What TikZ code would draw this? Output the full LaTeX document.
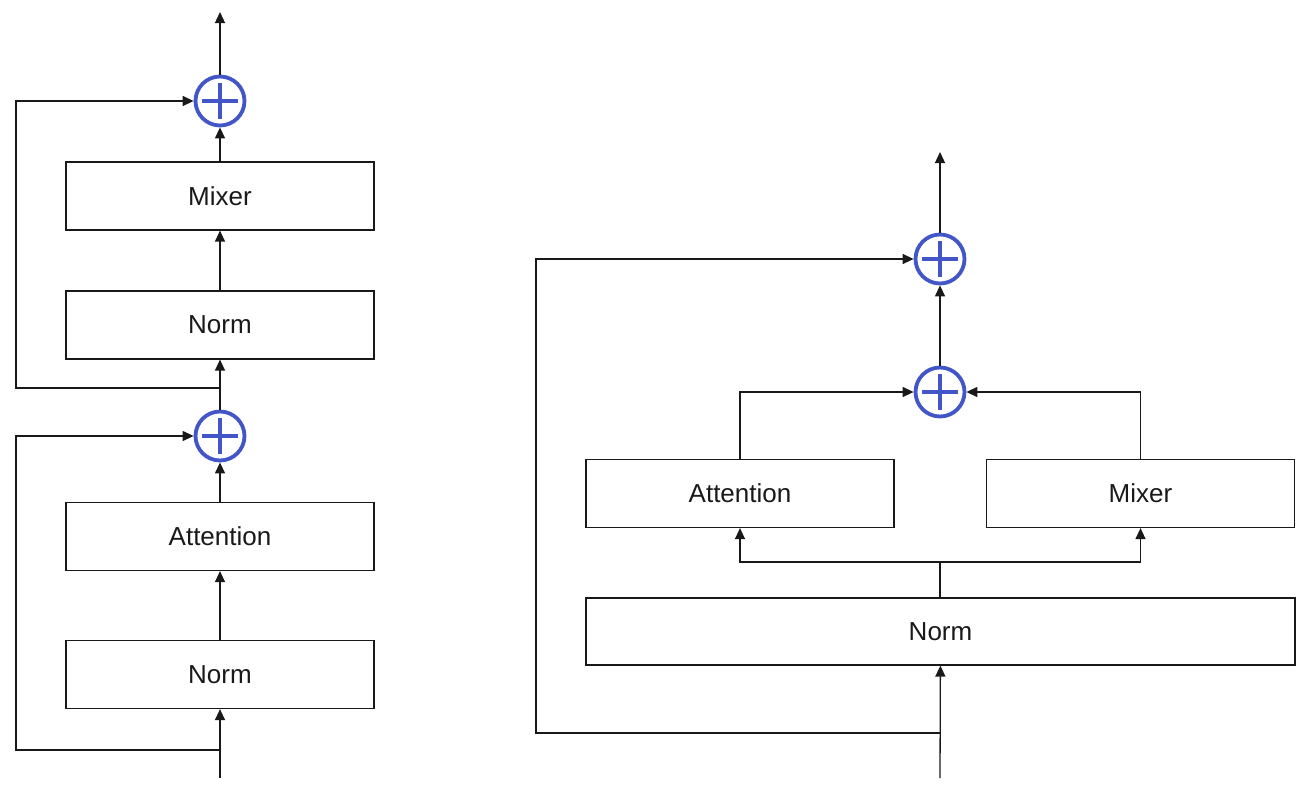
\documentclass[tikz,border=0pt]{standalone}
\usepackage{fontspec}
\setmainfont{Liberation Sans}
\usepackage{tikz}
\usetikzlibrary{arrows.meta,positioning}
\definecolor{sumcol}{RGB}{66,86,200}
\definecolor{inkcol}{RGB}{25,25,25}
\tikzset{
  block/.style={draw=inkcol,line width=1.2pt,minimum width=308pt,minimum height=68pt,
    text=inkcol,font=\fontsize{26}{30}\selectfont,inner sep=0pt},
  wideblock/.style={block,minimum width=709pt,minimum height=67pt},
  adder/.style={circle,draw=sumcol,line width=3.8pt,minimum size=49pt,inner sep=0pt,
    path picture={\draw[sumcol,line width=3.6pt]
      (path picture bounding box.center) +(-18pt,0pt) -- +(18pt,0pt)
      +(0pt,-18pt) -- +(0pt,18pt);}},
  arr/.style={-{Triangle[length=11pt,width=10pt]},line width=1.3pt,draw=inkcol},
  wire/.style={line width=1.3pt,draw=inkcol},
}

\begin{document}
\begin{tikzpicture}[x=1pt,y=-1pt]
  \useasboundingbox (0,0) rectangle (1316,795);
  % sequential block
  \node[block] (mixA) at (220,196) {Mixer};
  \node[block] (normB) at (220,325) {Norm};
  \node[block] (attnA) at (220,536.5) {Attention};
  \node[block] (normA) at (220,674.5) {Norm};
  \node[adder] (addB) at (220,101) {};
  \node[adder] (addA) at (220,436) {};
  \coordinate (inA) at (220,778);
  \coordinate (outA) at (220,12);
  \coordinate (skipA) at (220,750);
  \coordinate (skipB) at (220,388);
  \draw[arr] (inA) -- (normA);
  \draw[arr] (normA) -- (attnA);
  \draw[arr] (attnA) -- (addA);
  \draw[arr] (addA) -- (normB);
  \draw[arr] (normB) -- (mixA);
  \draw[arr] (mixA) -- (addB);
  \draw[arr] (addB) -- (outA);
  \draw[arr] (skipA) -- ++(-204,0) |- (addA);
  \draw[arr] (skipB) -- ++(-204,0) |- (addB);
  % parallel block
  \node[wideblock] (normC) at (940.5,631.5) {Norm};
  \node[block] (attnC) at (740,493.5) {Attention};
  \node[block] (mixC) at (1140.5,493.5) {Mixer};
  \node[adder] (addC) at (940,392) {};
  \node[adder] (addD) at (940,259) {};
  \coordinate (inC) at (940,778);
  \coordinate (outC) at (940,152);
  \coordinate (skipC) at (940,733);
  \coordinate (split) at (940,562);
  \draw[arr] (inC) -- (normC);
  \draw[wire] (normC.north -| split) -- (split);
  \draw[arr] (split) -| (attnC);
  \draw[arr] (split) -| (mixC);
  \draw[arr] (attnC) |- (addC);
  \draw[arr] (mixC) |- (addC);
  \draw[arr] (addC) -- (addD);
  \draw[arr] (addD) -- (outC);
  \draw[arr] (skipC) -- ++(-404,0) |- (addD);
\end{tikzpicture}
\end{document}
